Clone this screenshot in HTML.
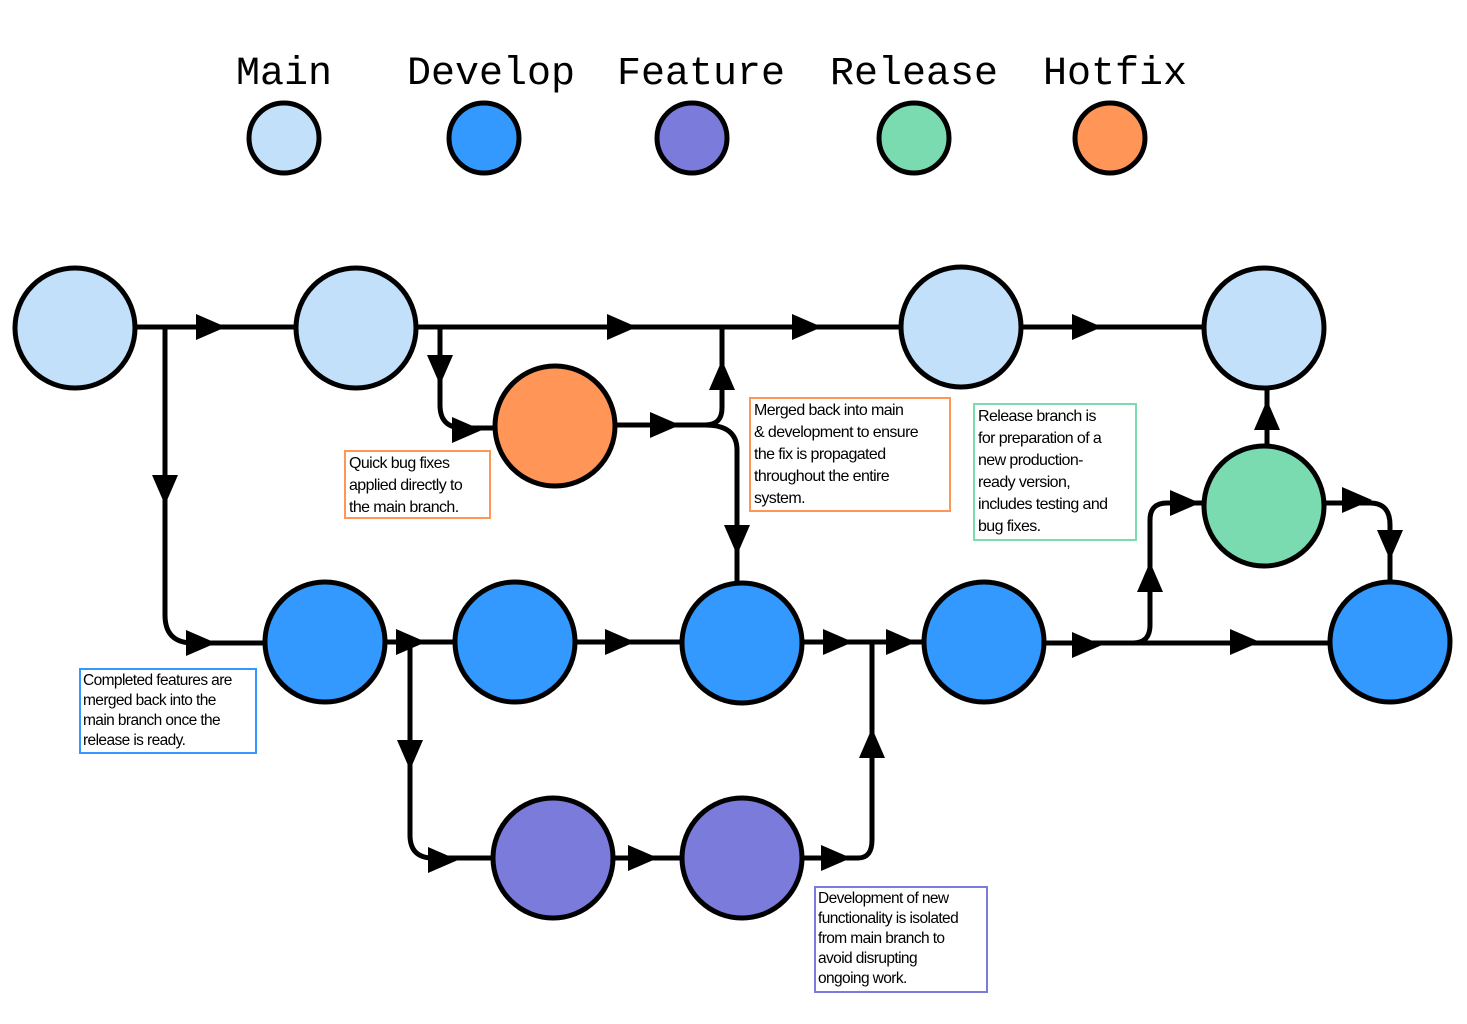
<!DOCTYPE html>
<html><head><meta charset="utf-8"><style>
html,body{margin:0;padding:0;background:#fff;}
svg{display:block}
.n{stroke:#000;stroke-width:5}
.l{stroke:#000;stroke-width:5;fill:none}
.lg{font-family:"Liberation Mono",monospace;font-size:40px;fill:#000}
.note{position:absolute;font-family:"Liberation Sans",sans-serif;font-size:16px;line-height:22px;color:#000;padding:1px 3px;box-sizing:border-box;letter-spacing:-0.6px;white-space:nowrap}
</style></head><body>
<div style="position:relative;width:1467px;height:1024px;overflow:hidden">
<svg width="1467" height="1024" viewBox="0 0 1467 1024">
<defs><polygon id="ar" points="0,-13 30,0 0,13" fill="#000"/></defs>
<text class="lg" x="284" y="84" text-anchor="middle">Main</text>
<text class="lg" x="491" y="84" text-anchor="middle">Develop</text>
<text class="lg" x="701" y="84" text-anchor="middle">Feature</text>
<text class="lg" x="914" y="84" text-anchor="middle">Release</text>
<text class="lg" x="1115" y="84" text-anchor="middle">Hotfix</text>
<circle class="n" cx="284" cy="138" r="35" fill="#c2e0fa"/>
<circle class="n" cx="484" cy="138" r="35" fill="#3399ff"/>
<circle class="n" cx="692" cy="138" r="35" fill="#7b7bdb"/>
<circle class="n" cx="914" cy="138" r="35" fill="#7adab0"/>
<circle class="n" cx="1110" cy="138" r="35" fill="#ff9557"/>
<path class="l" d="M135 327 H300 M415 327 H905 M1021 327 H1204"/>
<path class="l" d="M165 327 V615 Q165 643 193 643 H265"/>
<path class="l" d="M440 327 V405 Q440 428 463 428 H495"/>
<path class="l" d="M615 425 H705 Q722 425 722 408 V327"/>
<path class="l" d="M705 425 Q737 425 737 450 V585"/>
<path class="l" d="M385 642 H455 M575 642 H682 M802 642 H925"/>
<path class="l" d="M410 642 V835 Q410 858 433 858 H493"/>
<path class="l" d="M613 858 H682 M802 858 H858 Q872 858 872 840 V642"/>
<path class="l" d="M1044 643 H1133 Q1150 643 1150 625 V520 Q1150 503 1167 503 H1204 M1133 643 H1330"/>
<path class="l" d="M1267 446 V388"/>
<path class="l" d="M1324 503 H1370 Q1390 503 1390 525 V582"/>
<use href="#ar" transform="translate(196,327)"/>
<use href="#ar" transform="translate(607,327)"/>
<use href="#ar" transform="translate(792,327)"/>
<use href="#ar" transform="translate(1072,327)"/>
<use href="#ar" transform="translate(165,475) rotate(90)"/>
<use href="#ar" transform="translate(186,643)"/>
<use href="#ar" transform="translate(440,355) rotate(90)"/>
<use href="#ar" transform="translate(452,430)"/>
<use href="#ar" transform="translate(650,425)"/>
<use href="#ar" transform="translate(722,390) rotate(-90)"/>
<use href="#ar" transform="translate(737,525) rotate(90)"/>
<use href="#ar" transform="translate(396,642)"/>
<use href="#ar" transform="translate(410,740) rotate(90)"/>
<use href="#ar" transform="translate(428,860)"/>
<use href="#ar" transform="translate(605,642)"/>
<use href="#ar" transform="translate(823,642)"/>
<use href="#ar" transform="translate(886,642)"/>
<use href="#ar" transform="translate(628,858)"/>
<use href="#ar" transform="translate(821,858)"/>
<use href="#ar" transform="translate(872,758) rotate(-90)"/>
<use href="#ar" transform="translate(1072,645)"/>
<use href="#ar" transform="translate(1150,592) rotate(-90)"/>
<use href="#ar" transform="translate(1170,503)"/>
<use href="#ar" transform="translate(1230,642)"/>
<use href="#ar" transform="translate(1267,430) rotate(-90)"/>
<use href="#ar" transform="translate(1342,500)"/>
<use href="#ar" transform="translate(1390,530) rotate(90)"/>
<circle class="n" cx="75" cy="328" r="60" fill="#c2e0fa"/>
<circle class="n" cx="356" cy="328" r="60" fill="#c2e0fa"/>
<circle class="n" cx="961" cy="327" r="60" fill="#c2e0fa"/>
<circle class="n" cx="1264" cy="328" r="60" fill="#c2e0fa"/>
<circle class="n" cx="555" cy="426" r="60" fill="#ff9557"/>
<circle class="n" cx="1264" cy="506" r="60" fill="#7adab0"/>
<circle class="n" cx="325" cy="642" r="60" fill="#3399ff"/>
<circle class="n" cx="515" cy="642" r="60" fill="#3399ff"/>
<circle class="n" cx="742" cy="643" r="60" fill="#3399ff"/>
<circle class="n" cx="984" cy="642" r="60" fill="#3399ff"/>
<circle class="n" cx="1390" cy="642" r="60" fill="#3399ff"/>
<circle class="n" cx="553" cy="858" r="60" fill="#7b7bdb"/>
<circle class="n" cx="742" cy="858" r="60" fill="#7b7bdb"/>
</svg>
<div class="note" style="left:344px;top:450px;width:147px;height:69px;border:2.5px solid #ff9557">Quick bug fixes<br>applied directly to<br>the main branch.</div>
<div class="note" style="left:749px;top:397px;width:202px;height:115px;border:2.5px solid #ff9557">Merged back into main<br>&amp; development to ensure<br>the fix is propagated<br>throughout the entire<br>system.</div>
<div class="note" style="left:973px;top:403px;width:164px;height:138px;border:2.5px solid #7adab0">Release branch is<br>for preparation of a<br>new production-<br>ready version,<br>includes testing and<br>bug fixes.</div>
<div class="note" style="left:79px;top:668px;width:178px;height:86px;border:2.5px solid #3399ff;font-size:15.5px;line-height:20px;padding-left:2px">Completed features are<br>merged back into the<br>main branch once the<br>release is ready.</div>
<div class="note" style="left:814px;top:886px;width:174px;height:107px;border:2.5px solid #7b7bdb;font-size:15.5px;line-height:20px;padding-left:2px">Development of new<br>functionality is isolated<br>from main branch to<br>avoid disrupting<br>ongoing work.</div>
</div>
</body></html>
